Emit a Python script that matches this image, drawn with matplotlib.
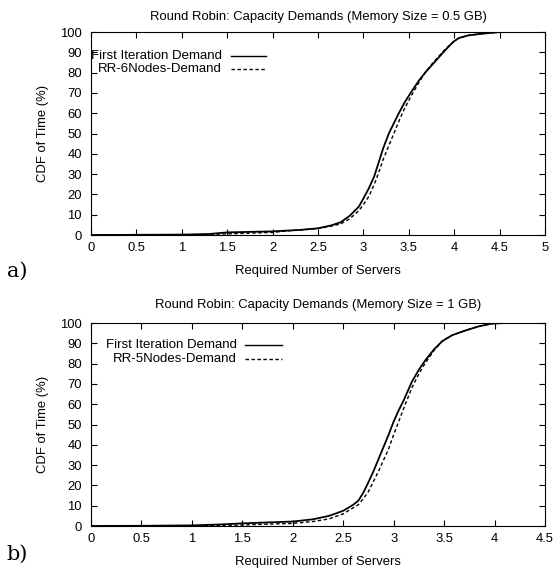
import matplotlib.pyplot as plt
from matplotlib.lines import Line2D

# ---- data ----
# panel a) memory size 0.5 GB
a_first_x = [0, 0.5, 1.0, 1.3, 1.45, 1.5, 2.0, 2.3, 2.5, 2.65, 2.75, 2.85, 2.95, 3.0, 3.06, 3.12,
             3.17, 3.22, 3.28, 3.34, 3.39, 3.45, 3.52, 3.61, 3.68, 3.76, 3.83, 3.9, 3.96, 4.0,
             4.05, 4.15, 4.27, 4.38, 4.46, 4.5]
a_first_y = [0, 0.1, 0.2, 0.5, 1.1, 1.3, 1.8, 2.5, 3.3, 4.8, 6.3, 9.5, 14, 18, 23, 29,
             36, 43, 50, 55.5, 60, 65, 70, 76, 80, 84, 87.5, 91, 93.8, 95.5,
             97, 98.3, 99, 99.5, 99.8, 100]
a_rr_x = [0, 0.5, 1.0, 1.3, 1.5, 2.0, 2.2, 2.5, 2.65, 2.75, 2.85, 2.95, 3.0, 3.06, 3.12,
          3.17, 3.22, 3.28, 3.34, 3.39, 3.45, 3.52, 3.61, 3.68, 3.76, 3.83, 3.9, 3.96, 4.0,
          4.05, 4.15, 4.27, 4.38, 4.46, 4.5]
a_rr_y = [0, 0.05, 0.1, 0.3, 0.6, 1.3, 2.2, 3.2, 4.4, 5.5, 8, 12, 15, 19, 25,
          31, 37.5, 44, 50.5, 56, 62, 68, 75, 80, 84.5, 88, 91.5, 94, 95.5,
          97, 98.3, 99, 99.5, 99.8, 100]

# panel b) memory size 1 GB
b_first_x = [0, 0.5, 1.0, 1.3, 1.5, 2.0, 2.2, 2.36, 2.5, 2.6, 2.65, 2.7, 2.75, 2.8, 2.85, 2.9,
             2.95, 3.0, 3.05, 3.1, 3.18, 3.25, 3.31, 3.4, 3.48, 3.58, 3.71, 3.84, 3.97, 4.1]
b_first_y = [0, 0.1, 0.3, 0.8, 1.3, 2.2, 3.3, 5, 7.5, 10.5, 12.5, 16.5, 21.6, 27, 33, 39,
             45, 51.5, 57, 62, 71, 77, 81.4, 87, 91, 94, 96.3, 98.3, 99.7, 100]
b_rr_x = [0, 0.5, 1.0, 1.3, 1.5, 2.0, 2.2, 2.36, 2.5, 2.6, 2.65, 2.7, 2.75, 2.8, 2.85, 2.9,
          2.95, 3.0, 3.05, 3.1, 3.18, 3.25, 3.31, 3.4, 3.48, 3.58, 3.71, 3.84, 3.97, 4.1]
b_rr_y = [0, 0.05, 0.1, 0.3, 0.5, 1.3, 2.2, 3.5, 6, 9, 10.5, 13.5, 17, 22, 27, 32.5,
          38, 45, 51.5, 58, 68, 75, 80, 86.5, 91, 94, 96.3, 98.3, 99.7, 100]

panels = [
    dict(title="Round Robin: Capacity Demands (Memory Size = 0.5 GB)", tag="a)",
         xmax=5.0, first=(a_first_x, a_first_y), rr=(a_rr_x, a_rr_y),
         rr_label="RR-6Nodes-Demand", rect=[0.1637, 0.5884, 0.8165, 0.3555],
         leg=(0.289, 0.308, 0.385, 0.882, 0.818), tag_y=271, tpad=9),
    dict(title="Round Robin: Capacity Demands (Memory Size = 1 GB)", tag="b)",
         xmax=4.5, first=(b_first_x, b_first_y), rr=(b_rr_x, b_rr_y),
         rr_label="RR-5Nodes-Demand", rect=[0.1637, 0.0788, 0.8165, 0.3555],
         leg=(0.322, 0.339, 0.421, 0.892, 0.823), tag_y=554, tpad=10.5),
]

FS = 9.4
plt.rcParams['font.family'] = ['Liberation Sans', 'DejaVu Sans']
plt.rcParams['font.size'] = FS

fig = plt.figure(figsize=(5.56, 5.71), dpi=100)

for p in panels:
    ax = fig.add_axes(p["rect"])
    ax.plot(*p["first"], color='black', lw=1.3, solid_joinstyle='round')
    ax.plot(*p["rr"], color='black', lw=1.0, linestyle=(0, (2.5, 1.8)))
    ax.set_xlim(0, p["xmax"])
    ax.set_ylim(0, 100)
    ax.set_xticks([i * 0.5 for i in range(int(p["xmax"] * 2) + 1)])
    ax.set_xticklabels([f"{t:g}" for t in ax.get_xticks()])
    ax.set_yticks(range(0, 101, 10))
    ax.tick_params(direction='in', top=True, right=True, length=4, width=0.8,
                   labelsize=FS)
    ax.tick_params(axis='x', pad=5)
    ax.tick_params(axis='y', pad=6.5)
    for s in ax.spines.values():
        s.set_linewidth(0.8)
    ax.set_title(p["title"], fontsize=FS, pad=p["tpad"])
    ax.set_xlabel("Required Number of Servers", fontsize=FS, labelpad=8)
    ax.set_ylabel("CDF of Time (%)", fontsize=FS, labelpad=8)

    # gnuplot-style key: right-justified text followed by sample line
    tx, l0, l1, y1, y2 = p["leg"]
    ax.text(tx, y1, "First Iteration Demand", transform=ax.transAxes,
            ha='right', va='center', fontsize=9.5)
    ax.text(tx, y2, p["rr_label"], transform=ax.transAxes,
            ha='right', va='center', fontsize=9.5)
    ax.add_line(Line2D([l0, l1], [y1, y1], transform=ax.transAxes, color='black', lw=1.0))
    ax.add_line(Line2D([l0, l1], [y2, y2], transform=ax.transAxes, color='black', lw=1.0,
                       linestyle=(0, (2.5, 1.8))))

    fig.text(0.012, 1 - p["tag_y"] / 571, p["tag"], family=['DejaVu Serif'],
             fontsize=15, ha='left', va='center')

fig.savefig("out.png", dpi=100)
